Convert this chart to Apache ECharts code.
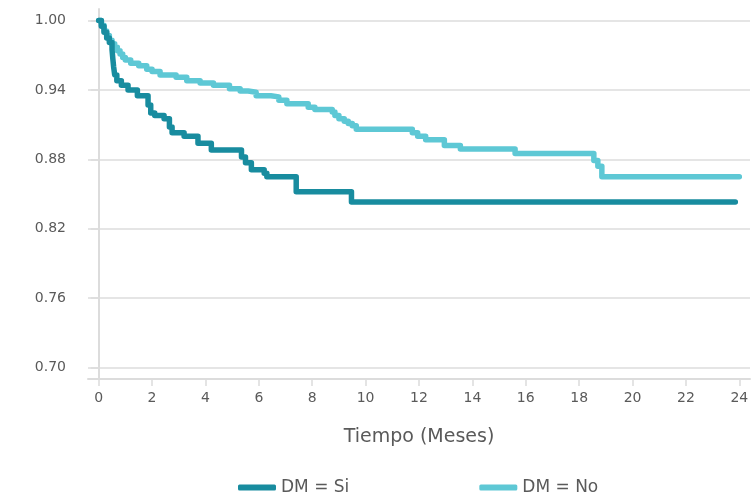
<!DOCTYPE html>
<html>
<head>
<meta charset="utf-8">
<script src="https://cdn.jsdelivr.net/npm/echarts@6/dist/echarts.min.js"></script>
<style>
  html, body { margin: 0; padding: 0; background: #ffffff; }
  #chart { width: 754px; height: 494px; }
</style>
</head>
<body>
<div id="chart"></div>
<script>
// Kaplan-Meier survival by diabetes status (time in months)
const siTime = [0, 0.1, 0.2, 0.3, 0.4, 0.5, 0.53, 0.56, 0.6, 0.68, 0.85, 1.1, 1.45, 1.85, 1.95, 2.1, 2.45, 2.65, 2.75, 3.2, 3.72, 4.22, 5.35, 5.5, 5.72, 6.2, 6.3, 7.4, 9.47, 23.85];
const siSurv = [1.000, 0.995, 0.990, 0.985, 0.981, 0.975, 0.967, 0.960, 0.953, 0.948, 0.944, 0.940, 0.935, 0.927, 0.920, 0.918, 0.915, 0.908, 0.903, 0.900, 0.894, 0.888, 0.882, 0.877, 0.871, 0.868, 0.865, 0.852, 0.843, 0.843];

const noTime = [0, 0.1, 0.2, 0.3, 0.4, 0.5, 0.6, 0.7, 0.8, 0.9, 1.0, 1.2, 1.5, 1.8, 2.0, 2.3, 2.9, 3.3, 3.8, 4.3, 4.9, 5.3, 5.6, 5.9, 6.45, 6.75, 7.05, 7.85, 8.1, 8.75, 8.85, 9.0, 9.2, 9.35, 9.5, 9.65, 11.75, 11.95, 12.25, 12.95, 13.55, 15.6, 18.55, 18.7, 18.85, 24.0];
const noSurv = [1.000, 0.996, 0.991, 0.987, 0.983, 0.980, 0.977, 0.974, 0.971, 0.968, 0.966, 0.963, 0.961, 0.958, 0.956, 0.953, 0.951, 0.948, 0.946, 0.944, 0.941, 0.939, 0.938, 0.935, 0.934, 0.931, 0.928, 0.925, 0.923, 0.921, 0.918, 0.915, 0.913, 0.911, 0.909, 0.906, 0.903, 0.900, 0.897, 0.892, 0.889, 0.885, 0.879, 0.874, 0.865, 0.865];

const seriesNames = ['DM = Si', 'DM = No'];
const xTicks = [0, 2, 4, 6, 8, 10, 12, 14, 16, 18, 20, 22, 24];
const yTicks = [0.70, 0.76, 0.82, 0.88, 0.94, 1.00];
const xAxisTitle = 'Tiempo (Meses)';

const pair = (t, s) => t.map((v, i) => [v, s[i]]);

const textColor = '#5a5a5a';
const lineGray = '#dcdcdc';
const fontFamily = '"DejaVu Sans", sans-serif';

const chart = echarts.init(document.getElementById('chart'), null, { renderer: 'canvas' });
chart.setOption({
  animation: false,
  backgroundColor: '#ffffff',
  grid: { left: 88, right: 4, top: 9, bottom: 115, containLabel: false },
  xAxis: {
    type: 'value',
    min: -0.4,
    max: 24.4,
    name: xAxisTitle,
    nameLocation: 'middle',
    nameGap: 49,
    nameTextStyle: { color: textColor, fontSize: 19, fontFamily: fontFamily },
    axisLine: { show: true, onZero: false, lineStyle: { color: lineGray, width: 2 } },
    axisTick: { show: true, length: 7, customValues: xTicks, lineStyle: { color: lineGray, width: 1.5 } },
    axisLabel: { customValues: xTicks, margin: 12, color: textColor, fontSize: 14, fontFamily: fontFamily },
    splitLine: { show: false }
  },
  yAxis: {
    type: 'value',
    min: 0.69,
    max: 1.01,
    axisLine: { show: true, lineStyle: { color: lineGray, width: 2 } },
    axisTick: { show: true, length: 8, customValues: yTicks, lineStyle: { color: lineGray, width: 1.5 } },
    axisLabel: {
      customValues: yTicks,
      margin: 22,
      color: textColor,
      fontSize: 14,
      fontFamily: fontFamily,
      formatter: v => v.toFixed(2)
    },
    splitLine: { show: true, lineStyle: { color: lineGray, width: 1.5 } }
  },
  legend: {
    data: seriesNames,
    left: 233,
    top: 474,
    itemGap: 130,
    itemWidth: 38,
    itemHeight: 6,
    icon: 'roundRect',
    textStyle: { color: textColor, fontSize: 17, fontFamily: fontFamily, padding: [0, 0, 0, 0] }
  },
  series: [
    {
      name: seriesNames[1],
      type: 'line',
      step: 'end',
      showSymbol: false,
      z: 2,
      data: pair(noTime, noSurv),
      itemStyle: { color: '#5ec8d5' },
      lineStyle: { color: '#5ec8d5', width: 5.5, cap: 'round', join: 'round' }
    },
    {
      name: seriesNames[0],
      type: 'line',
      step: 'end',
      showSymbol: false,
      z: 3,
      data: pair(siTime, siSurv),
      itemStyle: { color: '#188c9f' },
      lineStyle: { color: '#188c9f', width: 5.5, cap: 'round', join: 'round' }
    }
  ]
});
</script>
</body>
</html>
